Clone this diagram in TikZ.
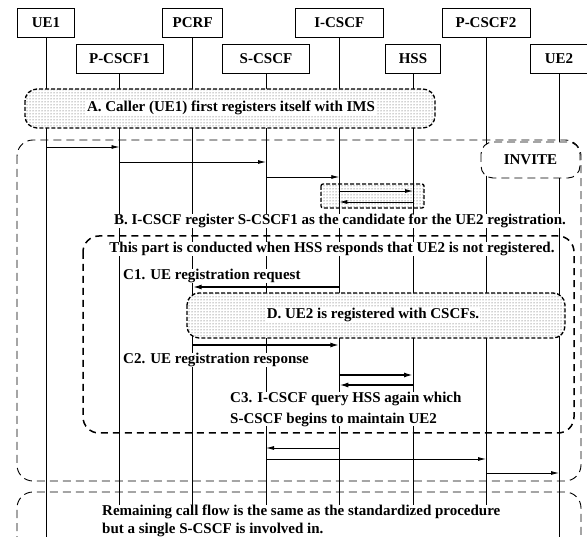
\documentclass[tikz,border=0pt]{standalone}
\usepackage{fontspec}
\setmainfont{Liberation Serif}
\usetikzlibrary{arrows.meta,patterns}

\begin{document}
\begin{tikzpicture}[x=1pt,y=-1pt,
    font=\fontsize{15}{18}\selectfont\bfseries,
    ent/.style={draw,line width=0.8pt,minimum width=#1,minimum height=29pt,inner sep=0pt},
    ent/.default=57pt,
    lbl/.style={fill=white,inner xsep=1pt,inner ysep=0pt},
    msg/.style={line width=0.8pt,-{Latex[length=8pt,width=4pt]}},
    bmsg/.style={line width=1.6pt,-{Latex[length=9pt,width=5pt]}},
    dotbox/.style={line width=1.3pt,dash pattern=on 4pt off 2pt,rounded corners=9pt,
      pattern=dots,pattern color=black!75,preaction={fill=white}},
    stage/.style={line width=0.9pt,dash pattern=on 8pt off 5pt,rounded corners=16pt}]
    \useasboundingbox (0,0) rectangle (587,537);
    \node[ent] (ue1) at (46,22.5) {UE1};
    \node[ent=87pt] (pcscf1) at (119.5,59) {P-CSCF1};
    \node[ent=60pt] (pcrf) at (192.7,22.5) {PCRF};
    \node[ent=87pt] (scscf) at (266,59) {S-CSCF};
    \node[ent=88pt] (icscf) at (339.3,22.5) {I-CSCF};
    \node[ent=55pt] (hss) at (413,59) {HSS};
    \node[ent=88pt] (pcscf2) at (486,22.5) {P-CSCF2};
    \node[ent=58pt] (ue2) at (559,59) {UE2};
    \draw[stage] (17,140) rectangle (581,481);
    \draw[stage,line width=1.5pt,dash pattern=on 7pt off 5pt] (83,236) rectangle (574,433);
    \draw[stage] (17,570) -- (17,492) -- (581,492) -- (581,570);
    \draw[dotbox,rounded corners=2pt] (321,184) rectangle (424,208);
    \foreach \n in {ue1,pcscf1,pcrf,scscf,icscf,hss,pcscf2,ue2}
      \draw[line width=0.8pt] (\n.south) -- (\n |- 0,537);
    \draw[dotbox,rounded corners=12pt] (25,89) rectangle (435,128);
    \draw[stage,fill=white,rounded corners=12pt] (481,142) rectangle (580,178);
    \draw[dotbox,rounded corners=12pt] (187,293) rectangle (565,338);
    \node[lbl] (regA) at (231,108) {A. Caller (UE1) first registers itself with IMS};
    \node[lbl] (invite) at (530.5,160) {INVITE};
    \node[lbl] (regB) at (340,221) {B. I-CSCF register S-CSCF1 as the candidate for the UE2 registration.};
    \node[lbl] (partC) at (332,249) {This part is conducted when HSS responds that UE2 is not registered.};
    \node[lbl,anchor=west] (c1) at (122,276) {C1. UE registration request};
    \node[lbl] (regD) at (373,315) {D. UE2 is registered with CSCFs.};
    \node[lbl,anchor=west] (c2) at (122,360) {C2. UE registration response};
    \node[lbl,anchor=west,align=left] (c3) at (229,409) {C3. I-CSCF query HSS again which\\[3pt] S-CSCF begins to maintain UE2};
    \node[lbl,anchor=west,align=left] (rest) at (101,521) {Remaining call flow is the same as the standardized procedure\\ but a single S-CSCF is involved in.};
    \draw[msg] (ue1 |- 0,147) -- (pcscf1 |- 0,147);
    \draw[msg] (pcscf1 |- 0,162) -- (scscf |- 0,162);
    \draw[msg] (scscf |- 0,177) -- (icscf |- 0,177);
    \draw[msg] (icscf |- 0,191) -- (hss |- 0,191);
    \draw[msg] (hss |- 0,202) -- (icscf |- 0,202);
    \draw[bmsg] (icscf |- 0,287) -- (pcrf |- 0,287);
    \draw[bmsg] (pcrf |- 0,345) -- (icscf |- 0,345);
    \draw[bmsg] (icscf |- 0,375) -- (hss |- 0,375);
    \draw[bmsg] (hss |- 0,385) -- (icscf |- 0,385);
    \draw[msg] (icscf |- 0,448) -- (scscf |- 0,448);
    \draw[msg] (scscf |- 0,459) -- (pcscf2 |- 0,459);
    \draw[msg] (pcscf2 |- 0,473) -- (ue2 |- 0,473);
  \end{tikzpicture}
\end{document}
